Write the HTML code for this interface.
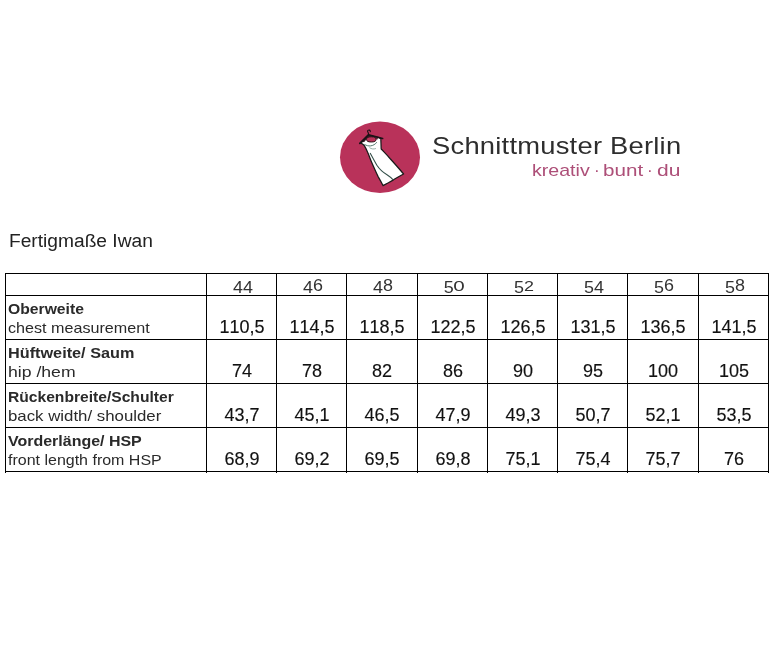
<!DOCTYPE html>
<html>
<head>
<meta charset="utf-8">
<style>
html,body{margin:0;padding:0;background:#fff;}
body{width:782px;height:666px;position:relative;overflow:hidden;font-family:"Liberation Sans",sans-serif;}
.a,.lb,.ls,.n,.hd{will-change:transform;}
.a{position:absolute;white-space:nowrap;line-height:1;}
.k{top:162px;font-size:17px;color:#ad4f78;transform-origin:0 0;}
.od{position:relative;top:1.7px;}
.ox{display:inline-block;transform:scaleY(0.87);transform-origin:50% 13.5px;}
.oz{transform:scale(1.15,0.87);margin-left:0.5px;}
.h{position:absolute;height:1px;background:#000;}
.v{position:absolute;width:1px;background:#000;}
.lb{position:absolute;left:8px;font-size:15px;color:#2a2a2a;font-weight:bold;white-space:nowrap;line-height:1;transform-origin:0 0;}
.ls{position:absolute;left:8px;font-size:15px;color:#2a2a2a;white-space:nowrap;line-height:1;transform-origin:0 0;}
.n{position:absolute;width:70px;text-align:center;font-size:18px;color:#111;line-height:1;font-kerning:none;-webkit-text-stroke:0.15px #111;}
.hd{position:absolute;width:70px;text-align:center;font-size:16px;color:#333;line-height:1;font-kerning:none;transform:scaleX(1.12);}
</style>
</head>
<body>
<!-- logo -->
<svg class="a" style="left:0;top:0" width="782" height="220" viewBox="0 0 782 220">
  <ellipse cx="380" cy="157.2" rx="40" ry="35.7" fill="#b9325a"/>
  <!-- dress -->
  <path d="M360.8,143.1 L368.6,135.4 L378,137.3 L380.8,138.6 C381,142 381,146 381.2,149 C384,152 387,155 390,158.5 C394.5,163.5 399,168.5 403.6,174 L399.5,176.3 L395.1,178.8 L393.1,180.1 L388.4,182.8 L383,185.6 C381,181.5 379.5,179 378.2,176.8 C376.5,173 375,170 373.5,166.6 C372.2,163.5 371,161 370.1,158.5 C369.2,156 368.3,153.8 367.4,151.8 C366.4,149.5 365.2,147 364,145.2 C363,144.2 361.8,143.5 360.8,143.1 Z" fill="#fff" stroke="#1a1a1a" stroke-width="1.25" stroke-linejoin="round"/>
  <path d="M370.1,153.1 C372.5,157.5 374.8,161.5 376.9,165.3 C380,170 383.5,172.8 387,174.7 C389.5,176.3 391.5,178 393.1,179.8" fill="none" stroke="#34504a" stroke-width="1.1"/>
  <path d="M364.4,144.4 C366.5,145.6 368.5,146.1 370.5,145.9 C373,145.6 375.4,144.3 376.8,142.2" fill="none" stroke="#3f6a5c" stroke-width="0.9"/>
  <path d="M369.4,147.6 C371.5,149 373.6,149.4 375.9,148.5" fill="none" stroke="#6f8f84" stroke-width="0.7"/>
  <path d="M361.6,142.2 L368.6,135.2 L374,136.4 L369,137.6 L366.4,139.6 L364.2,142 Z" fill="#3a1c26"/>
  <path d="M374,136.6 L378.2,137.6 L377.6,139.6 L376,139.2 Z" fill="#6a2a40"/>
  <ellipse cx="371.3" cy="139.4" rx="4.8" ry="2.6" fill="#b9325a" stroke="#2a1418" stroke-width="1"/>
  <!-- hanger -->
  <path d="M359.8,143.4 L368.6,134.7 L382.6,138.5" fill="none" stroke="#1a1216" stroke-width="1.7" stroke-linejoin="round" stroke-linecap="round"/>
  <path d="M368.6,134.7 C368.8,133.2 368,132.4 367.6,131.6 C367.3,130.6 368.3,129.9 369.3,130.1 C370.1,130.3 370.5,131 370.3,131.7" fill="none" stroke="#1a1216" stroke-width="1.1" stroke-linecap="round"/>
</svg>
<div class="a" style="left:432px;top:133.5px;font-size:24px;letter-spacing:0.2px;transform-origin:0 0;transform:scaleX(1.14);color:#2e2e2e;">Schnittmuster Berlin</div>
<div class="a k" style="left:532.05px;transform:scaleX(1.152);">kreativ</div>
<div class="a k" style="left:594.3px;">·</div>
<div class="a k" style="left:602.7px;transform:scaleX(1.213);">bunt</div>
<div class="a k" style="left:647px;">·</div>
<div class="a k" style="left:657.2px;transform:scaleX(1.235);">du</div>

<div class="a" style="left:8.5px;top:232px;font-size:18px;color:#222;transform-origin:0 0;transform:scaleX(1.065);">Fertigmaße Iwan</div>

<!-- table lines -->
<div class="h" style="left:5px;top:273px;width:764px;"></div>
<div class="h" style="left:5px;top:295px;width:764px;"></div>
<div class="h" style="left:5px;top:339px;width:764px;"></div>
<div class="h" style="left:5px;top:383px;width:764px;"></div>
<div class="h" style="left:5px;top:427px;width:764px;"></div>
<div class="h" style="left:5px;top:471px;width:764px;"></div>
<div class="v" style="left:5px;top:273px;height:200px;"></div>
<div class="v" style="left:206px;top:273px;height:200px;"></div>
<div class="v" style="left:276px;top:273px;height:200px;"></div>
<div class="v" style="left:346px;top:273px;height:200px;"></div>
<div class="v" style="left:417px;top:273px;height:200px;"></div>
<div class="v" style="left:487px;top:273px;height:200px;"></div>
<div class="v" style="left:557px;top:273px;height:200px;"></div>
<div class="v" style="left:627px;top:273px;height:200px;"></div>
<div class="v" style="left:698px;top:273px;height:200px;"></div>
<div class="v" style="left:768px;top:273px;height:200px;"></div>

<!-- header -->
<div class="hd" style="left:208px;top:278px;"><span class="od">4</span><span class="od">4</span></div>
<div class="hd" style="left:278px;top:278px;"><span class="od">4</span>6</div>
<div class="hd" style="left:348px;top:278px;"><span class="od">4</span>8</div>
<div class="hd" style="left:419px;top:278px;"><span class="od">5</span><span class="ox oz">0</span></div>
<div class="hd" style="left:489px;top:278px;"><span class="od">5</span><span class="ox">2</span></div>
<div class="hd" style="left:559px;top:278px;"><span class="od">5</span><span class="od">4</span></div>
<div class="hd" style="left:629px;top:278px;"><span class="od">5</span>6</div>
<div class="hd" style="left:700px;top:278px;"><span class="od">5</span>8</div>

<!-- row 1 -->
<div class="lb" style="top:301px;transform:scaleX(1.047);">Oberweite</div>
<div class="ls" style="top:320px;transform:scaleX(1.075);">chest measurement</div>
<div class="n" style="left:207px;top:318px;">110,5</div>
<div class="n" style="left:277px;top:318px;">114,5</div>
<div class="n" style="left:347px;top:318px;">118,5</div>
<div class="n" style="left:418px;top:318px;">122,5</div>
<div class="n" style="left:488px;top:318px;">126,5</div>
<div class="n" style="left:558px;top:318px;">131,5</div>
<div class="n" style="left:628px;top:318px;">136,5</div>
<div class="n" style="left:699px;top:318px;">141,5</div>

<!-- row 2 -->
<div class="lb" style="top:345px;transform:scaleX(1.083);">Hüftweite/ Saum</div>
<div class="ls" style="top:364px;transform:scaleX(1.175);">hip /hem</div>
<div class="n" style="left:207px;top:362px;">74</div>
<div class="n" style="left:277px;top:362px;">78</div>
<div class="n" style="left:347px;top:362px;">82</div>
<div class="n" style="left:418px;top:362px;">86</div>
<div class="n" style="left:488px;top:362px;">90</div>
<div class="n" style="left:558px;top:362px;">95</div>
<div class="n" style="left:628px;top:362px;">100</div>
<div class="n" style="left:699px;top:362px;">105</div>

<!-- row 3 -->
<div class="lb" style="top:389px;transform:scaleX(1.041);">Rückenbreite/Schulter</div>
<div class="ls" style="top:408px;transform:scaleX(1.121);">back width/ shoulder</div>
<div class="n" style="left:207px;top:406px;">43,7</div>
<div class="n" style="left:277px;top:406px;">45,1</div>
<div class="n" style="left:347px;top:406px;">46,5</div>
<div class="n" style="left:418px;top:406px;">47,9</div>
<div class="n" style="left:488px;top:406px;">49,3</div>
<div class="n" style="left:558px;top:406px;">50,7</div>
<div class="n" style="left:628px;top:406px;">52,1</div>
<div class="n" style="left:699px;top:406px;">53,5</div>

<!-- row 4 -->
<div class="lb" style="top:433px;transform:scaleX(1.065);">Vorderlänge/ HSP</div>
<div class="ls" style="top:452px;transform:scaleX(1.066);">front length from HSP</div>
<div class="n" style="left:207px;top:450px;">68,9</div>
<div class="n" style="left:277px;top:450px;">69,2</div>
<div class="n" style="left:347px;top:450px;">69,5</div>
<div class="n" style="left:418px;top:450px;">69,8</div>
<div class="n" style="left:488px;top:450px;">75,1</div>
<div class="n" style="left:558px;top:450px;">75,4</div>
<div class="n" style="left:628px;top:450px;">75,7</div>
<div class="n" style="left:699px;top:450px;">76</div>
</body>
</html>
